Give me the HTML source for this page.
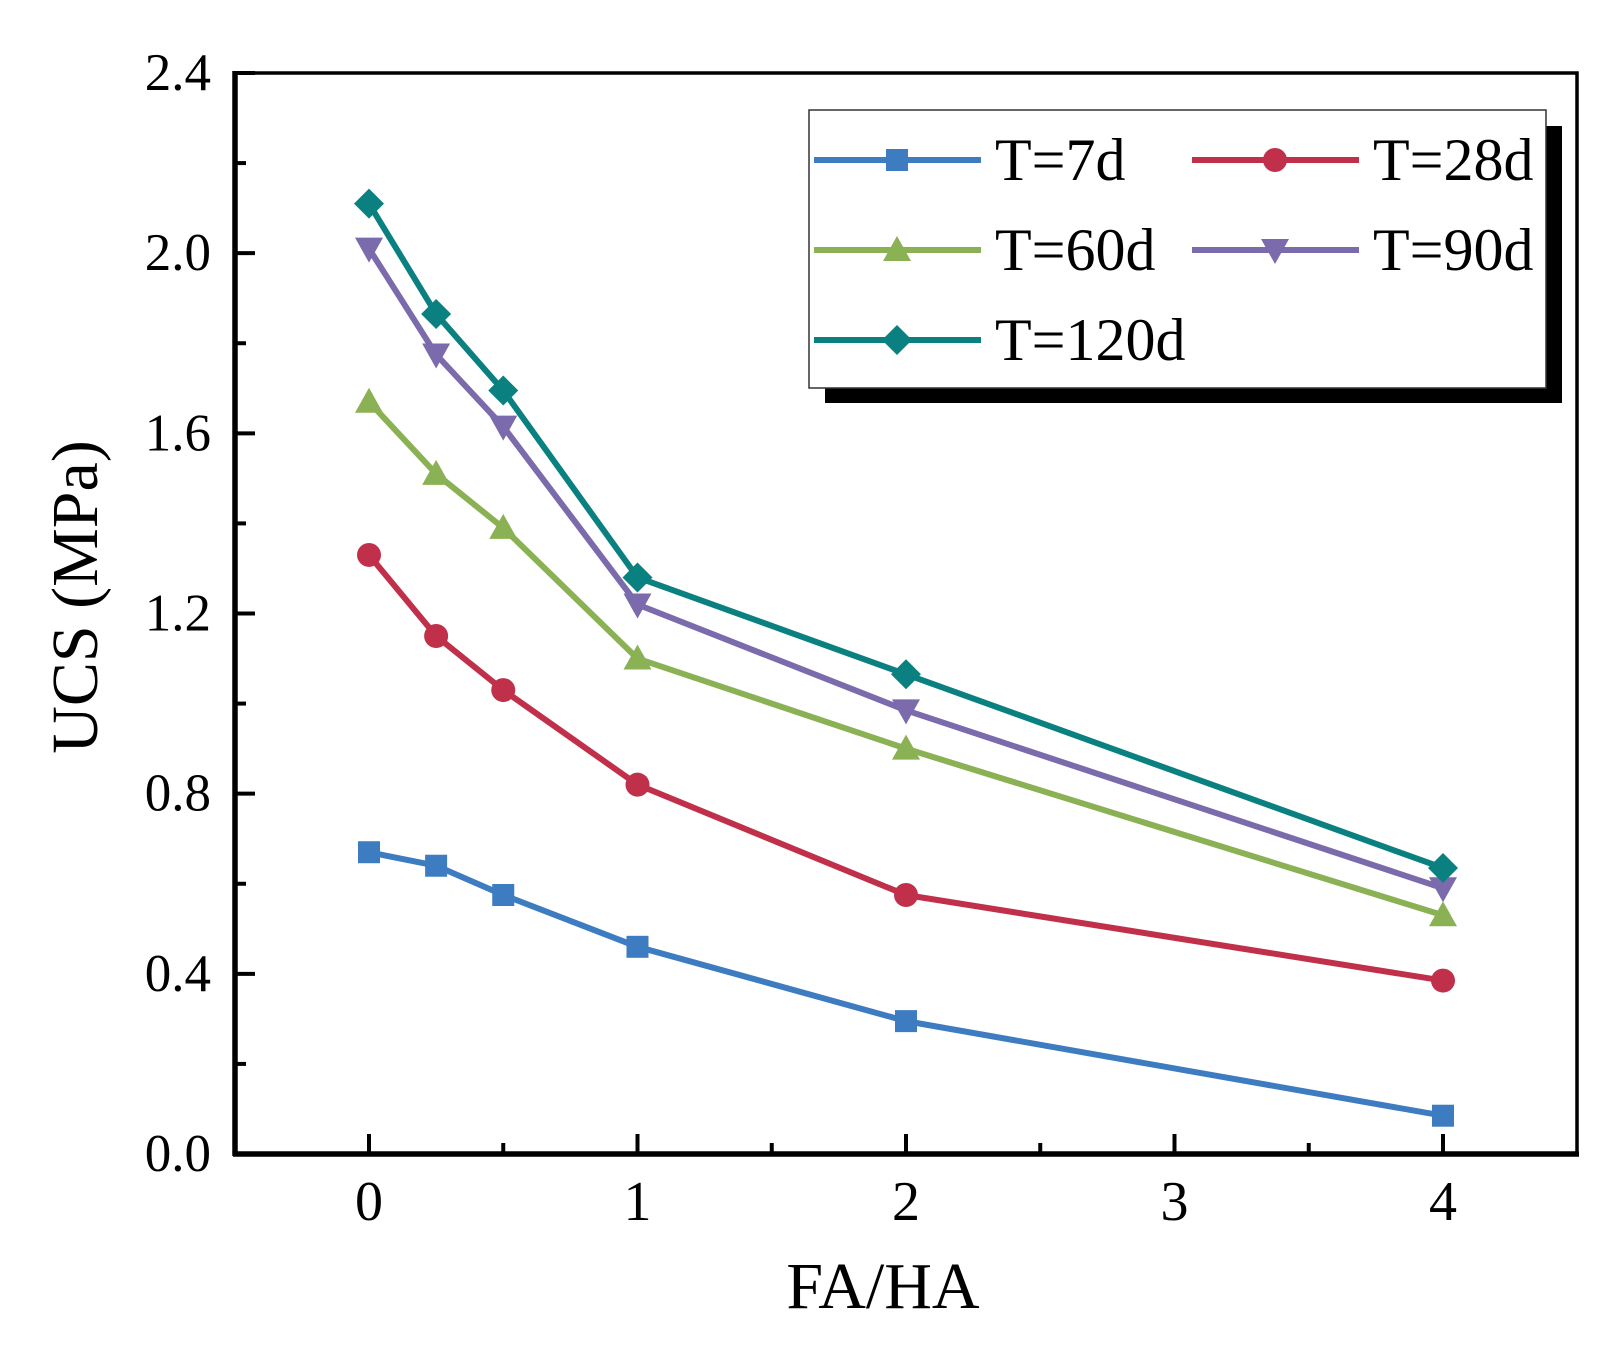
<!DOCTYPE html>
<html><head><meta charset="utf-8"><style>
html,body{margin:0;padding:0;background:#fff;}
svg{display:block;font-family:"Liberation Serif",serif;}
</style></head><body>
<svg id="chart" width="1616" height="1357" viewBox="0 0 1616 1357"></svg>
<script>
const xValues=[0,0.25,0.5,1,2,4];
const s7=[0.67,0.64,0.575,0.46,0.295,0.085];
const s28=[1.33,1.15,1.03,0.82,0.575,0.385];
const s60=[1.67,1.51,1.39,1.10,0.90,0.53];
const s90=[2.01,1.775,1.615,1.22,0.985,0.59];
const s120=[2.11,1.865,1.695,1.28,1.065,0.635];
const seriesNames=["T=7d","T=28d","T=60d","T=90d","T=120d"];
const xTicks=[0,1,2,3,4];
const yTicks=[0,0.4,0.8,1.2,1.6,2.0,2.4];
const yTickLabels=["0.0","0.4","0.8","1.2","1.6","2.0","2.4"];

const NS="http://www.w3.org/2000/svg";
const svg=document.getElementById('chart');
const L=235,R=1577,T=73,B=1154;
const X=v=>369+(v)*268.5;
const Y=v=>B-v*(B-T)/2.4;
function el(tag,attrs,parent){const e=document.createElementNS(NS,tag);for(const k in attrs)e.setAttribute(k,attrs[k]);(parent||svg).appendChild(e);return e;}

let fr=el('rect',{x:L,y:T,width:R-L,height:B-T,fill:'none',stroke:'#000','stroke-width':3.5});


let xa=el('line',{x1:L-2,y1:B,x2:R+2,y2:B,stroke:'#000','stroke-width':5.5});


let ya=el('line',{x1:L,y1:T-2,x2:L,y2:B+2,stroke:'#000','stroke-width':5.5});



yTicks.forEach((v,i)=>{
  let t=el('line',{x1:L,y1:Y(v),x2:L+20,y2:Y(v),stroke:'#000','stroke-width':4});
  
  
  let tx=el('text',{x:L-24,y:Y(v)+17,'text-anchor':'end','font-size':53});
  tx.textContent=yTickLabels[i];
  
  
  if(i<yTicks.length-1){
    let m=el('line',{x1:L,y1:Y(v+0.2),x2:L+11,y2:Y(v+0.2),stroke:'#000','stroke-width':4});
    
    
  }
});
xTicks.forEach((v,i)=>{
  let t=el('line',{x1:X(v),y1:B,x2:X(v),y2:B-20,stroke:'#000','stroke-width':4});
  
  
  let tx=el('text',{x:X(v),y:1220,'text-anchor':'middle','font-size':56});
  tx.textContent=String(v);
  
  
  if(i<xTicks.length-1){
    let m=el('line',{x1:X(v+0.5),y1:B,x2:X(v+0.5),y2:B-11,stroke:'#000','stroke-width':4});
    
    
  }
});
let xt=el('text',{x:883,y:1308,'text-anchor':'middle','font-size':66});
xt.textContent='FA/HA';


let yt=el('text',{x:0,y:0,'text-anchor':'middle','font-size':66,transform:'translate(97,597) rotate(-90)'});
yt.textContent='UCS (MPa)';



const colors=["#3d7cc0","#c0304a","#8bb155","#7b6aac","#0a8080"];
const markers=["square","circle","triangle","tri-down","diamond"];
function marker(type,x,y,c,g){
  let m;
  if(type==='square')m=el('rect',{x:x-11,y:y-11,width:22,height:22,fill:c},g);
  else if(type==='circle')m=el('circle',{cx:x,cy:y,r:12,fill:c},g);
  else if(type==='triangle')m=el('polygon',{points:`${x},${y-14} ${x+14},${y+11} ${x-14},${y+11}`,fill:c},g);
  else if(type==='tri-down')m=el('polygon',{points:`${x},${y+14} ${x+14},${y-11} ${x-14},${y-11}`,fill:c},g);
  else m=el('polygon',{points:`${x},${y-15} ${x+15},${y} ${x},${y+15} ${x-15},${y}`,fill:c},g);
  return m;
}
const allSeries=[s7,s28,s60,s90,s120];
allSeries.forEach((s,i)=>{
  const g=el('g',{});
  
  
  const pl=el('polyline',{points:s.map((v,j)=>X(xValues[j])+','+Y(v)).join(' '),fill:'none',stroke:colors[i],'stroke-width':6,'stroke-linejoin':'round'},g);
  
  
  s.forEach((v,j)=>{
    const m=marker(markers[i],X(xValues[j]),Y(v),colors[i],g);
    
    
  });
});

const lg=el('g',{});


el('rect',{x:825,y:126,width:737,height:277,fill:'#000'},lg);
el('rect',{x:809,y:110,width:737,height:278,fill:'#fff',stroke:'#333','stroke-width':1.5},lg);
const legPos=[[0,0],[1,0],[0,1],[1,1],[0,2]];
seriesNames.forEach((n,i)=>{
  const cx=legPos[i][0]?1192:814, cy=160+legPos[i][1]*90;
  const e=el('g',{},lg);
  
  
  el('line',{x1:cx,y1:cy,x2:cx+167,y2:cy,stroke:colors[i],'stroke-width':6},e);
  marker(markers[i],cx+83,cy,colors[i],e);
  const t=el('text',{x:cx+181,y:cy+20,'font-size':60},e);
  t.textContent=n;
});
</script>
</body></html>
